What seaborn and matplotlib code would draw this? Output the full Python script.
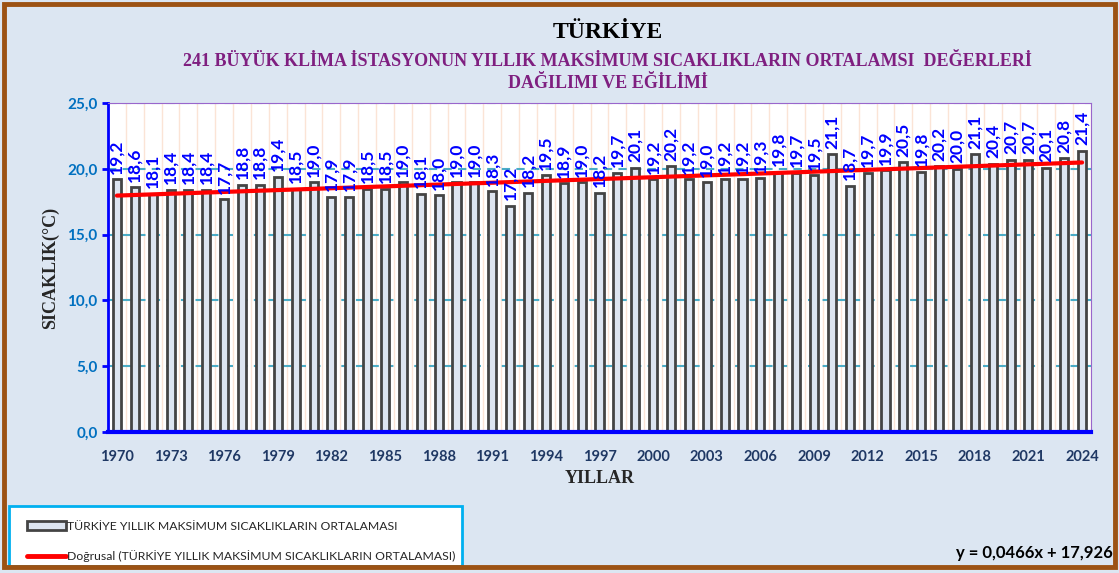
## Turkey annual mean of maximum temperatures, bar chart with linear trend

#----------------------------------------------------
# IMPORT
#----------------------------------------------------

import matplotlib
matplotlib.use("Agg")
import matplotlib.pyplot as plt
from matplotlib.patches import Rectangle, Patch
from matplotlib.lines import Line2D
from matplotlib.ticker import FixedLocator, FuncFormatter
import numpy as np
import pandas as pd
import seaborn as sns

#----------------------------------------------------
# DATA
#----------------------------------------------------

years = list(range(1970, 2025))
tmax_mean = [19.2, 18.6, 18.1, 18.4, 18.4, 18.4, 17.7, 18.8, 18.8, 19.4,
             18.5, 19.0, 17.9, 17.9, 18.5, 18.5, 19.0, 18.1, 18.0, 19.0,
             19.0, 18.3, 17.2, 18.2, 19.5, 18.9, 19.0, 18.2, 19.7, 20.1,
             19.2, 20.2, 19.2, 19.0, 19.2, 19.2, 19.3, 19.8, 19.7, 19.5,
             21.1, 18.7, 19.7, 19.9, 20.5, 19.8, 20.2, 20.0, 21.1, 20.4,
             20.7, 20.7, 20.1, 20.8, 21.4]
tick_years = [1970, 1973, 1976, 1979, 1982, 1985, 1988, 1991, 1994, 1997,
              2000, 2003, 2006, 2009, 2012, 2015, 2018, 2021, 2024]
y_ticks = [0, 5, 10, 15, 20, 25]

# trend line coefficients as written on the chart (x = 1..n)
trend_slope = 0.0466
trend_intercept = 17.926

title_main = "TÜRKİYE"
title_sub = ("241 BÜYÜK KLİMA İSTASYONUN YILLIK MAKSİMUM SICAKLIKLARIN ORTALAMSI  DEĞERLERİ\n"
             "DAĞILIMI VE EĞİLİMİ")
series_name = "TÜRKİYE YILLIK MAKSİMUM SICAKLIKLARIN ORTALAMASI"
trend_name = "Doğrusal (TÜRKİYE YILLIK MAKSİMUM SICAKLIKLARIN ORTALAMASI)"
equation_text = "y = 0,0466x + 17,926"

#----------------------------------------------------
# STYLE
#----------------------------------------------------

sns.set_style("white")
plt.rcParams["font.family"] = ["Lato", "DejaVu Sans"]

BG = "#dce6f2"
BAR_FILL = "#dde5f1"
BAR_EDGE = "#444444"
BLUE = "#0000ff"
TICK_BLUE = "#0070c0"
NAVY = "#1f3864"
PURPLE = "#7f1f80"
SERIF = ["Liberation Serif", "DejaVu Serif"]

#----------------------------------------------------
# PLOT
#----------------------------------------------------

def main():
    df = pd.DataFrame({"year": [str(y) for y in years], "value": tmax_mean})
    df["idx"] = np.arange(len(df))
    df["trend"] = trend_slope * (df["idx"] + 1) + trend_intercept

    fig = plt.figure(figsize=(11.19, 5.73), dpi=100, facecolor=BG)
    ax = fig.add_axes([0.0965, 0.246, 0.8785, 0.574])
    ax.set_facecolor("white")

    sns.barplot(data=df, x="year", y="value", color=BAR_FILL, saturation=1,
                edgecolor=BAR_EDGE, linewidth=2, width=0.45, ax=ax, zorder=3)
    ax.bar_label(ax.containers[0], labels=[f"{v:.1f}".replace(".", ",") for v in tmax_mean],
                 rotation=90, padding=4, color=BLUE, fontsize=12.5, fontweight="bold", zorder=5)

    sns.lineplot(data=df, x="idx", y="trend", color="#ff0000", linewidth=3, ax=ax, zorder=4)

    n = len(years)
    ax.set_xlim(-0.5, n - 0.5)
    ax.set_ylim(0, 25)

    # x labels at bar centres, tick marks and vertical grid at boundaries
    ax.xaxis.set_major_locator(FixedLocator([years.index(y) for y in tick_years]))
    ax.set_xticklabels([str(y) for y in tick_years])
    ax.xaxis.set_minor_locator(FixedLocator(np.arange(n + 1) - 0.5))
    ax.tick_params(axis="x", which="major", length=0, pad=13, labelsize=10.5,
                   labelcolor=NAVY)
    ax.tick_params(axis="x", which="minor", length=4, width=2, color=BLUE, direction="out")
    for t in ax.get_xticklabels():
        t.set_fontweight("bold")
    ax.grid(axis="x", which="minor", color="#fbe4d6", linewidth=1, zorder=0)

    ax.yaxis.set_major_locator(FixedLocator(y_ticks))
    ax.yaxis.set_major_formatter(FuncFormatter(lambda v, p: f"{v:.1f}".replace(".", ",")))
    ax.tick_params(axis="y", length=4, width=2, color=BLUE, direction="out",
                   labelsize=11, labelcolor=TICK_BLUE, left=True)
    for t in ax.get_yticklabels():
        t.set_fontweight("bold")
    ax.grid(axis="y", which="major", color="#4bacc6", linestyle=(0, (4, 3)), linewidth=1.5, zorder=1)

    ax.spines["left"].set_color(BLUE)
    ax.spines["left"].set_linewidth(2)
    ax.spines["bottom"].set_color(BLUE)
    ax.spines["bottom"].set_linewidth(3)
    ax.spines["top"].set_color("#9966cc")
    ax.spines["right"].set_color("#9966cc")
    for s in ax.spines.values():
        s.set_zorder(6)

    ax.set_xlabel("YILLAR", fontsize=13, fontweight="bold", family=SERIF, labelpad=4)
    ax.set_ylabel("SICAKLIK(°C)", fontsize=13, fontweight="bold", family=SERIF, labelpad=6)

    #titles
    fig.text(0.543, 0.944, title_main, ha="center", va="center", fontsize=17,
             fontweight="bold", family=SERIF, color="black")
    fig.text(0.543, 0.873, title_sub, ha="center", va="center", fontsize=13,
             fontweight="bold", family=SERIF, color=PURPLE, linespacing=1.4)

    #outer brown frame
    fig.patches.append(Rectangle((0.004, 0.01), 0.992, 0.983, transform=fig.transFigure,
                                 fill=False, edgecolor="#9c5214", linewidth=3.5, zorder=10))

    #legend box
    fig.patches.append(Rectangle((0.008, 0.012), 0.405, 0.105, transform=fig.transFigure,
                                 facecolor="white", edgecolor="#00b0f0", linewidth=2, zorder=1))
    handles = [Patch(facecolor=BAR_FILL, edgecolor=BAR_EDGE, linewidth=2),
               Line2D([0], [0], color="#ff0000", linewidth=3.5)]
    fig.legend(handles, [series_name, trend_name], loc="lower left",
               bbox_to_anchor=(0.014, 0.0), frameon=False, fontsize=8.8,
               handlelength=3.2, handletextpad=0.1, labelspacing=1.5)

    fig.text(0.994, 0.035, equation_text, ha="right", va="center", fontsize=12,
             fontweight="bold", color="black")

    fig.savefig("out.png", dpi=100, facecolor=BG)
    return


if __name__ == '__main__':
    main()
